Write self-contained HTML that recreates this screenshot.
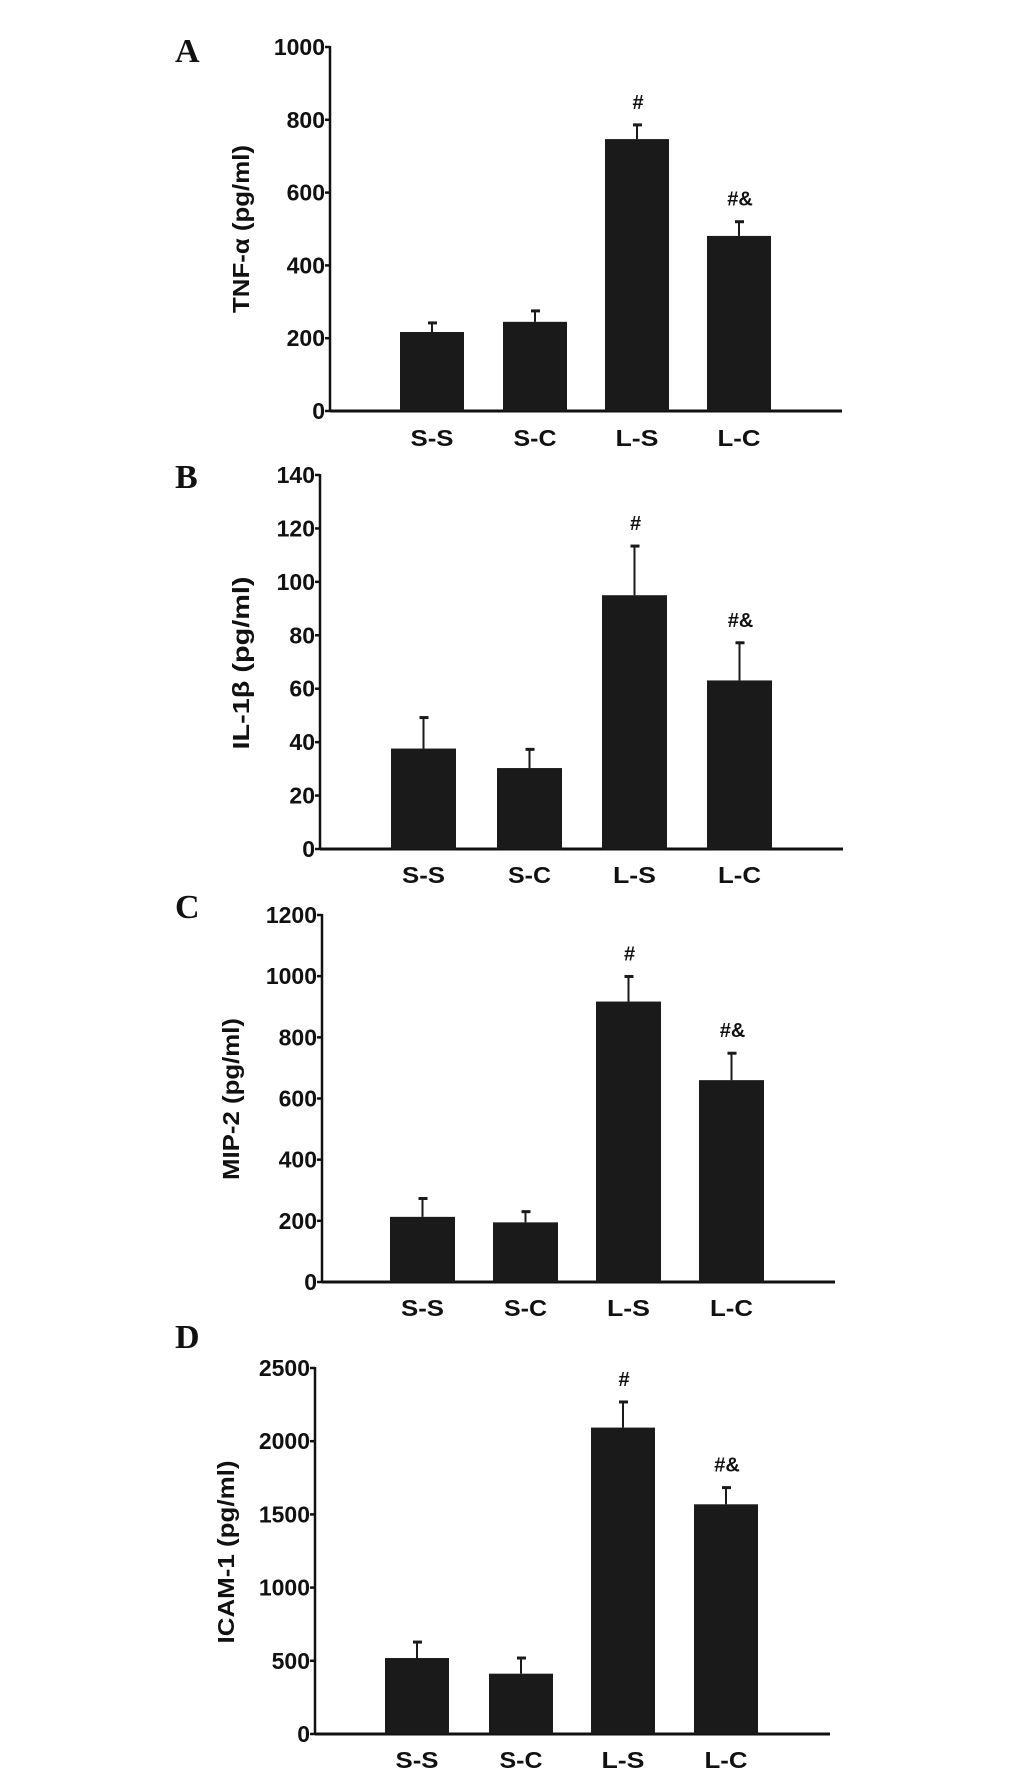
<!DOCTYPE html>
<html><head><meta charset="utf-8"><style>
html,body{margin:0;padding:0;background:#fff;}
svg{display:block;}
text{font-family:"Liberation Sans",sans-serif;font-weight:bold;fill:#111;}
.letter{font-family:"Liberation Serif",serif;font-weight:bold;font-size:34px;}
</style></head><body>
<svg id="fig" width="1033" height="1776" viewBox="0 0 1033 1776" xmlns="http://www.w3.org/2000/svg"></svg>
<script>
const categories = ["S-S","S-C","L-S","L-C"];
const tnfValues = [217,245,747,481];
const tnfErrors = [25,30,39,39];
const tnfTicks = [0,200,400,600,800,1000];
const il1bValues = [37.6,30.3,95,63.1];
const il1bErrors = [11.6,7,18.4,14.1];
const il1bTicks = [0,20,40,60,80,100,120,140];
const mip2Values = [213,195,917,660];
const mip2Errors = [60,35,82,88];
const mip2Ticks = [0,200,400,600,800,1000,1200];
const icamValues = [519,412,2093,1569];
const icamErrors = [109,107,175,114];
const icamTicks = [0,500,1000,1500,2000,2500];
const annotations = ["","","#","#&"];

const panels = [
 {id:"a",letter:"A",ly:62,title:"TNF-α (pg/ml)",tx:241,ty:229,tlen:168,ax:330,top:47,bot:411,xend:842,barL:[400,503,605,707],bw:64,max:1000,vals:tnfValues,errs:tnfErrors,ticks:tnfTicks,labY:446},
 {id:"b",letter:"B",ly:488,title:"IL-1β  (pg/ml)",tx:241,ty:663,tlen:173,ax:320,top:475,bot:849,xend:843,barL:[391,497,602,707],bw:65,max:140,vals:il1bValues,errs:il1bErrors,ticks:il1bTicks,labY:883},
 {id:"c",letter:"C",ly:918,title:"MIP-2 (pg/ml)",tx:231,ty:1099,tlen:162,ax:322,top:915,bot:1282,xend:835,barL:[390,493,596,699],bw:65,max:1200,vals:mip2Values,errs:mip2Errors,ticks:mip2Ticks,labY:1316},
 {id:"d",letter:"D",ly:1348,title:"ICAM-1 (pg/ml)",tx:226,ty:1552,tlen:183,ax:315,top:1368,bot:1734,xend:830,barL:[385,489,591,694],bw:64,max:2500,vals:icamValues,errs:icamErrors,ticks:icamTicks,labY:1768}
];
const NS="http://www.w3.org/2000/svg";
const svg=document.getElementById('fig');
function mk(tag,attrs,parent){const e=document.createElementNS(NS,tag);for(const k in attrs)e.setAttribute(k,attrs[k]);parent.appendChild(e);return e;}
panels.forEach(p=>{
 const g=mk('g',{},svg);
 
 
 const y=v=>p.bot-(v/p.max)*(p.bot-p.top);
 const L=mk('text',{x:175,y:p.ly,class:'letter'},g);L.textContent=p.letter;
 
 
 // y axis
 const ya=mk('line',{x1:p.ax,y1:p.top-1,x2:p.ax,y2:p.bot+1,stroke:'#111','stroke-width':2.5},g);
 
 
 const xa=mk('line',{x1:p.ax,y1:p.bot,x2:p.xend,y2:p.bot,stroke:'#111','stroke-width':3},g);
 
 
 p.ticks.forEach(t=>{
  mk('line',{x1:p.ax-5,y1:y(t),x2:p.ax,y2:y(t),stroke:'#111','stroke-width':2.5},g);
  const tl=mk('text',{x:p.ax-5,y:y(t)+8,'text-anchor':'end','font-size':23},g);
  tl.textContent=t;
  
  
 });
 const tt=mk('text',{x:p.tx,y:p.ty,'text-anchor':'middle','dominant-baseline':'central','font-size':23,textLength:p.tlen,lengthAdjust:'spacingAndGlyphs',transform:`rotate(-90 ${p.tx} ${p.ty})`},g);
 tt.textContent=p.title;
 
 
 categories.forEach((c,i)=>{
  const x0=p.barL[i],cx=x0+p.bw/2;
  const v=p.vals[i],e=p.errs[i];
  const b=mk('rect',{x:x0,y:y(v),width:p.bw,height:p.bot-y(v),fill:'#1a1a1a'},g);
  
  
  const el=mk('line',{x1:cx,y1:y(v),x2:cx,y2:y(v+e),stroke:'#1a1a1a','stroke-width':2},g);
  
  
  mk('line',{x1:cx-4,y1:y(v+e),x2:cx+5,y2:y(v+e),stroke:'#1a1a1a','stroke-width':3},g);
  if(annotations[i]){
   const a=mk('text',{x:cx+1,y:y(v+e)-16,'text-anchor':'middle','font-size':20},g);
   a.textContent=annotations[i];
   
   
  }
  const cl=mk('text',{x:cx,y:p.labY,'text-anchor':'middle','font-size':23,textLength:43,lengthAdjust:'spacingAndGlyphs'},g);
  cl.textContent=c;
  
  
 });
});
</script>
</body></html>
